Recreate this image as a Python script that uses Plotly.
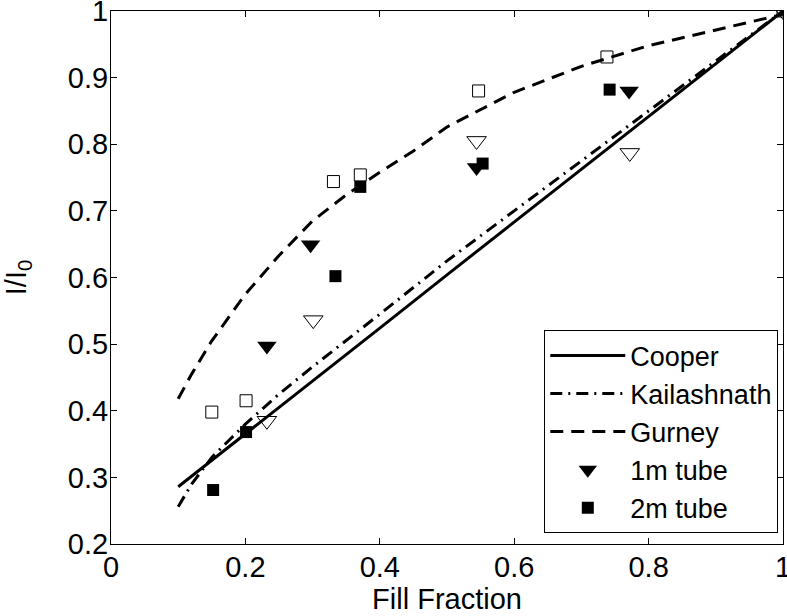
import plotly.graph_objects as go

# Model curves
cooper_x = [0.1, 0.2, 0.3, 0.4, 0.5, 0.6, 0.7, 0.8, 0.9, 1.0]
cooper_y = [0.286, 0.365, 0.445, 0.524, 0.604, 0.683, 0.762, 0.841, 0.921, 1.0]

kail_x = [0.1, 0.12, 0.15, 0.2, 0.25, 0.3, 0.4, 0.5, 0.6, 0.7, 0.8, 0.9, 1.0]
kail_y = [0.256, 0.29, 0.33, 0.38, 0.425, 0.466, 0.545, 0.625, 0.70, 0.775, 0.85, 0.925, 1.0]

gurney_x = [0.1, 0.12, 0.15, 0.2, 0.25, 0.3, 0.35, 0.4, 0.45, 0.5, 0.6, 0.7, 0.8, 0.9, 1.0]
gurney_y = [0.418, 0.455, 0.505, 0.575, 0.633, 0.685, 0.724, 0.758, 0.79, 0.826, 0.878, 0.917, 0.948, 0.971, 0.995]

# Measurements
tube1_x = [0.232, 0.297, 0.544, 0.771]
tube1_y = [0.497, 0.649, 0.765, 0.880]
tube2_x = [0.152, 0.201, 0.334, 0.371, 0.553, 0.742]
tube2_y = [0.281, 0.368, 0.602, 0.736, 0.771, 0.882]

open_sq_x = [0.150, 0.201, 0.331, 0.371, 0.547, 0.738, 1.0]
open_sq_y = [0.398, 0.415, 0.744, 0.754, 0.880, 0.931, 1.0]
open_tri_x = [0.232, 0.301, 0.544, 0.772, 1.0]
open_tri_y = [0.385, 0.536, 0.805, 0.787, 1.0]

x_ticks = [0, 0.2, 0.4, 0.6, 0.8, 1]
x_tick_labels = ["0", "0.2", "0.4", "0.6", "0.8", "1"]
y_ticks = [0.2, 0.3, 0.4, 0.5, 0.6, 0.7, 0.8, 0.9, 1.0]
y_tick_labels = ["0.2", "0.3", "0.4", "0.5", "0.6", "0.7", "0.8", "0.9", "1"]

FONT = "Liberation Sans, Arial, sans-serif"
FS = 29

fig = go.Figure()
fig.add_trace(go.Scatter(x=cooper_x, y=cooper_y, mode="lines", name="Cooper",
                         line=dict(color="black", width=3)))
fig.add_trace(go.Scatter(x=kail_x, y=kail_y, mode="lines", name="Kailashnath",
                         line=dict(color="black", width=3, dash="12px,6px,2px,6px")))
fig.add_trace(go.Scatter(x=gurney_x, y=gurney_y, mode="lines", name="Gurney",
                         line=dict(color="black", width=3, dash="13px,8px")))
fig.add_trace(go.Scatter(x=tube1_x, y=tube1_y, mode="markers", name="1m tube",
                         marker=dict(symbol="triangle-down", size=17, color="black",
                                     line=dict(width=0))))
fig.add_trace(go.Scatter(x=tube2_x, y=tube2_y, mode="markers", name="2m tube",
                         marker=dict(symbol="square", size=12, color="black",
                                     line=dict(width=0))))
fig.add_trace(go.Scatter(x=open_sq_x, y=open_sq_y, mode="markers", showlegend=False,
                         marker=dict(symbol="square-open", size=12, color="black",
                                     line=dict(width=1))))
fig.add_trace(go.Scatter(x=open_tri_x, y=open_tri_y, mode="markers", showlegend=False,
                         marker=dict(symbol="triangle-down-open", size=17, color="black",
                                     line=dict(width=1))))

axis_common = dict(showgrid=False, zeroline=False, showline=True, linecolor="black",
                   linewidth=1, mirror="ticks", ticks="inside", ticklen=6,
                   tickcolor="black", automargin=False, ticklabeloverflow="allow",
                   tickfont=dict(family=FONT, size=FS, color="black"))

fig.update_layout(
    width=787, height=616,
    margin=dict(l=111, r=4, t=11, b=72, autoexpand=False),
    paper_bgcolor="white", plot_bgcolor="white",
    font=dict(family=FONT, size=FS, color="black"),
    xaxis=dict(range=[0, 1], tickvals=x_ticks, ticktext=x_tick_labels,
               ticklabelstandoff=-3,
               title=dict(text="Fill Fraction", standoff=0,
                          font=dict(family=FONT, size=FS)), **axis_common),
    yaxis=dict(range=[0.2, 1], tickvals=y_ticks, ticktext=y_tick_labels,
               ticklabelstandoff=-4,
               title=dict(text="I/I<sub>0</sub>", standoff=32,
                          font=dict(family=FONT, size=FS)), **axis_common),
    legend=dict(x=0.993, y=0.02, xanchor="right", yanchor="bottom",
                bgcolor="white", bordercolor="black", borderwidth=1,
                font=dict(family=FONT, size=27), itemwidth=75,
                tracegroupgap=0),
    showlegend=True,
)

fig.write_html("out.html", config={"displayModeBar": False},
               post_script="document.body.style.margin='0px';document.body.style.overflow='hidden';")
